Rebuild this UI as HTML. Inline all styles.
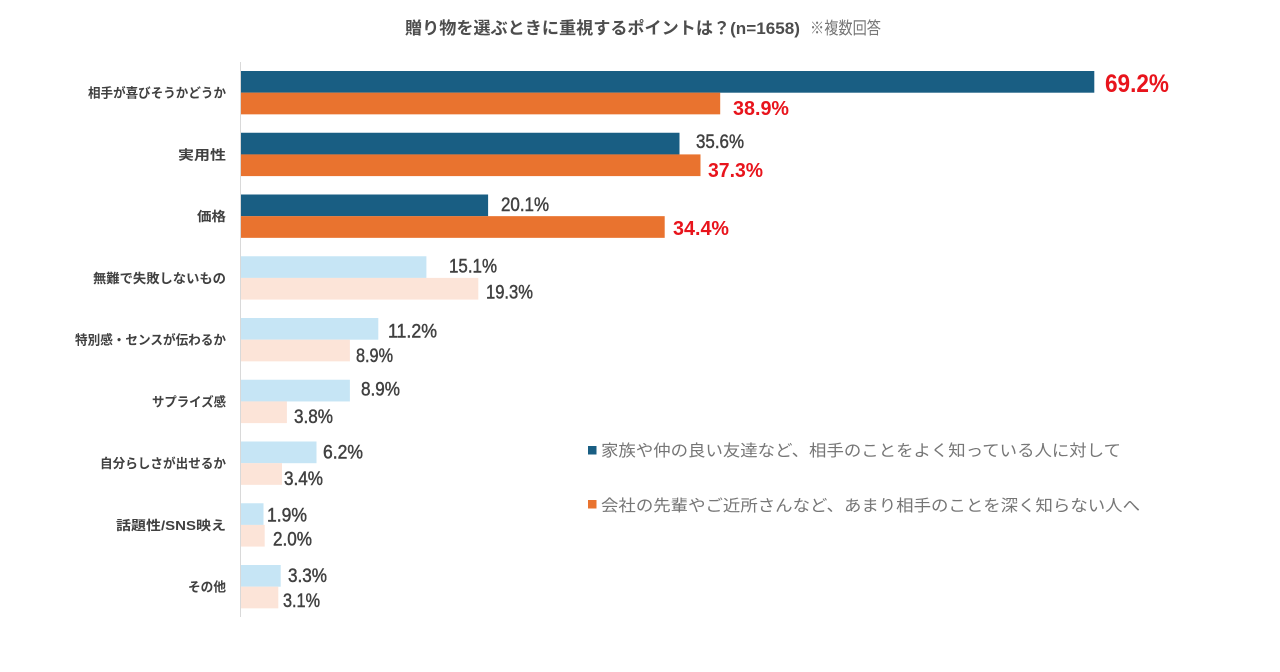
<!DOCTYPE html>
<html lang="ja">
<head>
<meta charset="utf-8">
<style>
  html,body{margin:0;padding:0;background:#fff;}
  svg{display:block;}
  text{font-family:"Liberation Sans","Noto Sans CJK JP",sans-serif;}
  .cat{font-size:13px;font-weight:bold;fill:#404040;}
  .v{font-size:19px;fill:#404040;stroke:#404040;stroke-width:0.45px;}
  .r{font-size:20px;font-weight:bold;fill:#e8141c;}
  .lg{font-size:16px;fill:#767676;}
</style>
</head>
<body>
<svg width="1280" height="672" viewBox="0 0 1280 672" xmlns="http://www.w3.org/2000/svg">
  <rect width="1280" height="672" fill="#fff"/>
  <!-- title -->
  <text x="405" y="34" font-size="17" font-weight="bold" fill="#4d4d4d" textLength="395" lengthAdjust="spacingAndGlyphs">贈り物を選ぶときに重視するポイントは？(n=1658)</text>
  <text x="810" y="34" font-size="17" fill="#767676" textLength="71" lengthAdjust="spacingAndGlyphs">※複数回答</text>

  <!-- row 1 -->
  <rect x="240" y="71" width="854.3" height="21.7" fill="#195e83"/>
  <rect x="240" y="92.65" width="480.2" height="21.7" fill="#e9732f"/>
  <!-- row 2 -->
  <rect x="240" y="132.75" width="439.5" height="21.7" fill="#195e83"/>
  <rect x="240" y="154.4" width="460.5" height="21.7" fill="#e9732f"/>
  <!-- row 3 -->
  <rect x="240" y="194.5" width="248.1" height="21.7" fill="#195e83"/>
  <rect x="240" y="216.15" width="424.7" height="21.7" fill="#e9732f"/>
  <!-- row 4 -->
  <rect x="240" y="256.25" width="186.4" height="21.7" fill="#c6e5f5"/>
  <rect x="240" y="277.9" width="238.3" height="21.7" fill="#fce4d8"/>
  <!-- row 5 -->
  <rect x="240" y="318" width="138.3" height="21.7" fill="#c6e5f5"/>
  <rect x="240" y="339.65" width="109.9" height="21.7" fill="#fce4d8"/>
  <!-- row 6 -->
  <rect x="240" y="379.75" width="109.9" height="21.7" fill="#c6e5f5"/>
  <rect x="240" y="401.4" width="46.9" height="21.7" fill="#fce4d8"/>
  <!-- row 7 -->
  <rect x="240" y="441.5" width="76.5" height="21.7" fill="#c6e5f5"/>
  <rect x="240" y="463.15" width="42" height="21.7" fill="#fce4d8"/>
  <!-- row 8 -->
  <rect x="240" y="503.25" width="23.5" height="21.7" fill="#c6e5f5"/>
  <rect x="240" y="524.9" width="24.7" height="21.7" fill="#fce4d8"/>
  <!-- row 9 -->
  <rect x="240" y="565" width="40.7" height="21.7" fill="#c6e5f5"/>
  <rect x="240" y="586.65" width="38.3" height="21.7" fill="#fce4d8"/>

  <!-- axis -->
  <line x1="240.5" y1="62" x2="240.5" y2="617" stroke="#d9d9d9" stroke-width="1"/>

  <!-- category labels -->
  <text class="cat" x="226" y="97.5" text-anchor="end" textLength="138" lengthAdjust="spacingAndGlyphs">相手が喜びそうかどうか</text>
  <text class="cat" x="226" y="159.3" text-anchor="end" textLength="48" lengthAdjust="spacingAndGlyphs">実用性</text>
  <text class="cat" x="226" y="221" text-anchor="end" textLength="29" lengthAdjust="spacingAndGlyphs">価格</text>
  <text class="cat" x="226" y="282.8" text-anchor="end" textLength="133" lengthAdjust="spacingAndGlyphs">無難で失敗しないもの</text>
  <text class="cat" x="226" y="344.5" text-anchor="end" textLength="151" lengthAdjust="spacingAndGlyphs">特別感・センスが伝わるか</text>
  <text class="cat" x="226" y="406.3" text-anchor="end" textLength="74" lengthAdjust="spacingAndGlyphs">サプライズ感</text>
  <text class="cat" x="226" y="468" text-anchor="end" textLength="126" lengthAdjust="spacingAndGlyphs">自分らしさが出せるか</text>
  <text class="cat" x="226" y="529.8" text-anchor="end" textLength="110" lengthAdjust="spacingAndGlyphs">話題性/SNS映え</text>
  <text class="cat" x="226" y="591.5" text-anchor="end" textLength="38" lengthAdjust="spacingAndGlyphs">その他</text>

  <!-- value labels -->
  <text x="1105" y="92" font-size="25" font-weight="bold" fill="#e8141c" textLength="64" lengthAdjust="spacingAndGlyphs">69.2%</text>
  <text class="r" x="733" y="115" textLength="56" lengthAdjust="spacingAndGlyphs">38.9%</text>

  <text class="v" x="696" y="148" textLength="48" lengthAdjust="spacingAndGlyphs">35.6%</text>
  <text class="r" x="708" y="177" textLength="55" lengthAdjust="spacingAndGlyphs">37.3%</text>

  <text class="v" x="501" y="211" textLength="48" lengthAdjust="spacingAndGlyphs">20.1%</text>
  <text class="r" x="673" y="235" textLength="56" lengthAdjust="spacingAndGlyphs">34.4%</text>

  <text class="v" x="449" y="272.5" textLength="48" lengthAdjust="spacingAndGlyphs">15.1%</text>
  <text class="v" x="486" y="298.5" textLength="47" lengthAdjust="spacingAndGlyphs">19.3%</text>

  <text class="v" x="388" y="337.5" textLength="49" lengthAdjust="spacingAndGlyphs">11.2%</text>
  <text class="v" x="356" y="362" textLength="37" lengthAdjust="spacingAndGlyphs">8.9%</text>

  <text class="v" x="361" y="395.5" textLength="39" lengthAdjust="spacingAndGlyphs">8.9%</text>
  <text class="v" x="294" y="423" textLength="39" lengthAdjust="spacingAndGlyphs">3.8%</text>

  <text class="v" x="323" y="458.5" textLength="40" lengthAdjust="spacingAndGlyphs">6.2%</text>
  <text class="v" x="284" y="485" textLength="39" lengthAdjust="spacingAndGlyphs">3.4%</text>

  <text class="v" x="267" y="521.5" textLength="40" lengthAdjust="spacingAndGlyphs">1.9%</text>
  <text class="v" x="273" y="545.5" textLength="39" lengthAdjust="spacingAndGlyphs">2.0%</text>

  <text class="v" x="288" y="582" textLength="39" lengthAdjust="spacingAndGlyphs">3.3%</text>
  <text class="v" x="283" y="607" textLength="37" lengthAdjust="spacingAndGlyphs">3.1%</text>

  <!-- legend -->
  <rect x="588" y="446" width="8.5" height="8.5" fill="#195e83"/>
  <text class="lg" x="601" y="456" textLength="520" lengthAdjust="spacingAndGlyphs">家族や仲の良い友達など、相手のことをよく知っている人に対して</text>
  <rect x="588" y="500" width="8.5" height="8.5" fill="#e9732f"/>
  <text class="lg" x="601" y="511" textLength="539" lengthAdjust="spacingAndGlyphs">会社の先輩やご近所さんなど、あまり相手のことを深く知らない人へ</text>
</svg>
</body>
</html>
